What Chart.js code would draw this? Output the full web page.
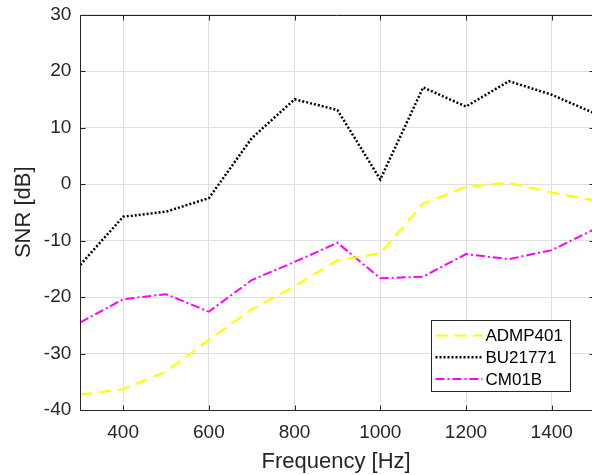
<!DOCTYPE html>
<html>
<head>
<meta charset="utf-8">
<script src="https://cdn.jsdelivr.net/npm/chart.js@4.4.1/dist/chart.umd.min.js"></script>
<style>
  html, body { margin: 0; padding: 0; background: #fff; }
  #wrap { width: 592px; height: 475px; }
</style>
</head>
<body>
<div id="wrap"><canvas id="snr-chart" width="592" height="475"></canvas></div>
<script>
// Frequencies [Hz]
const frequencies = [300, 400, 500, 600, 700, 800, 900, 1000, 1100, 1200, 1300, 1400, 1500];

// SNR [dB] per microphone
const admp401 = [-37.3, -36.3, -33.2, -27.6, -22.2, -18.1, -13.5, -12.3, -3.5, -0.5, 0.2, -1.5, -2.9];
const bu21771 = [-14.3, -5.8, -4.9, -2.5, 8.1, 15.0, 13.1, 0.8, 17.1, 13.7, 18.2, 15.8, 12.5];
const cm01b = [-24.5, -20.4, -19.5, -22.6, -17.0, -13.8, -10.4, -16.7, -16.4, -12.4, -13.3, -11.7, -8.0];

// Tick labels
const xTicks = [400, 600, 800, 1000, 1200, 1400];
const yTicks = [-40, -30, -20, -10, 0, 10, 20, 30];

const axisColor = '#262626';
const gridColor = '#dfdfdf';
const fontFamily = '"Liberation Sans", Arial, sans-serif';

function toPoints(values) {
    return frequencies.map((f, i) => ({ x: f, y: values[i] }));
}

// Draws the axes box, inward ticks and the legend (MATLAB look)
const matlabFrame = {
    id: 'matlabFrame',
    afterDatasetsDraw(chart) {
        const ctx = chart.ctx;
        const area = chart.chartArea;
        const xs = chart.scales.x;
        const ys = chart.scales.y;
        const left = Math.round(area.left) + 0.5;
        const top = Math.round(area.top) + 0.5;
        const bottom = Math.round(area.bottom) + 0.5;
        const right = xs.getPixelForValue(1500);

        ctx.save();
        ctx.strokeStyle = axisColor;
        ctx.lineWidth = 1;
        ctx.setLineDash([]);
        ctx.beginPath();
        ctx.moveTo(right, top);
        ctx.lineTo(left, top);
        ctx.lineTo(left, bottom);
        ctx.lineTo(right, bottom);
        ctx.lineTo(right, top);

        // inward tick marks
        xTicks.forEach(v => {
            const px = Math.round(xs.getPixelForValue(v)) + 0.5;
            ctx.moveTo(px, bottom);
            ctx.lineTo(px, bottom - 5);
            ctx.moveTo(px, top);
            ctx.lineTo(px, top + 5);
        });
        yTicks.forEach(v => {
            const py = Math.round(ys.getPixelForValue(v)) + 0.5;
            ctx.moveTo(left, py);
            ctx.lineTo(left + 5, py);
            ctx.moveTo(right, py);
            ctx.lineTo(right - 5, py);
        });
        ctx.stroke();

        // legend
        const box = { x: 431.5, y: 320.5, w: 139, h: 71 };
        ctx.fillStyle = '#fff';
        ctx.fillRect(box.x, box.y, box.w, box.h);
        ctx.strokeStyle = axisColor;
        ctx.strokeRect(box.x, box.y, box.w, box.h);
        ctx.font = '17px ' + fontFamily;
        ctx.textBaseline = 'middle';
        chart.data.datasets.forEach((ds, i) => {
            const rowY = box.y + 15 + i * 21.7;
            ctx.strokeStyle = ds.borderColor;
            ctx.lineWidth = ds.borderWidth;
            ctx.setLineDash(ds.borderDash);
            ctx.beginPath();
            ctx.moveTo(box.x + 4, rowY);
            ctx.lineTo(box.x + 51, rowY);
            ctx.stroke();
            ctx.setLineDash([]);
            ctx.fillStyle = '#000';
            ctx.fillText(ds.label, box.x + 54, rowY + 1);
        });
        ctx.restore();
    }
};

new Chart(document.getElementById('snr-chart').getContext('2d'), {
    type: 'line',
    data: {
        datasets: [
            {
                label: 'ADMP401',
                data: toPoints(admp401),
                borderColor: '#ffff00',
                borderWidth: 2.2,
                borderDash: [12, 7]
            },
            {
                label: 'BU21771',
                data: toPoints(bu21771),
                borderColor: '#000000',
                borderWidth: 2.5,
                borderDash: [2, 2]
            },
            {
                label: 'CM01B',
                data: toPoints(cm01b),
                borderColor: '#ff00ff',
                borderWidth: 2,
                borderDash: [9, 3, 2, 3]
            }
        ]
    },
    options: {
        responsive: false,
        animation: false,
        layout: { padding: { top: 14.5, right: 0, left: 0, bottom: 0 } },
        elements: { point: { radius: 0 }, line: { tension: 0 } },
        plugins: {
            legend: { display: false },
            tooltip: { enabled: false }
        },
        scales: {
            x: {
                type: 'linear',
                min: 300,
                max: 1494,
                afterBuildTicks: scale => {
                    scale.ticks = xTicks.map(v => ({ value: v }));
                },
                afterFit: scale => {
                    scale.height = 65;
                    scale.paddingLeft = 0;
                    scale.paddingRight = 0;
                },
                grid: { color: gridColor, drawTicks: false, tickLength: 0 },
                border: { display: false },
                ticks: {
                    color: axisColor,
                    padding: 11,
                    maxRotation: 0,
                    autoSkip: false,
                    font: { family: fontFamily, size: 19 },
                    callback: v => String(v)
                },
                title: {
                    display: true,
                    text: 'Frequency [Hz]',
                    color: axisColor,
                    padding: { top: 0, bottom: 0 },
                    font: { family: fontFamily, size: 22 }
                }
            },
            y: {
                min: -40,
                max: 30,
                afterBuildTicks: scale => {
                    scale.ticks = yTicks.map(v => ({ value: v }));
                },
                afterFit: scale => {
                    scale.width = 80.3;
                    scale.paddingTop = 0;
                    scale.paddingBottom = 0;
                },
                grid: { color: gridColor, drawTicks: false, tickLength: 0 },
                border: { display: false },
                ticks: {
                    color: axisColor,
                    padding: 9,
                    font: { family: fontFamily, size: 19 },
                    callback: v => String(v)
                },
                title: {
                    display: true,
                    text: 'SNR [dB]',
                    color: axisColor,
                    padding: { top: 11, bottom: 0 },
                    font: { family: fontFamily, size: 22 }
                }
            }
        }
    },
    plugins: [matlabFrame]
});
</script>
</body>
</html>
